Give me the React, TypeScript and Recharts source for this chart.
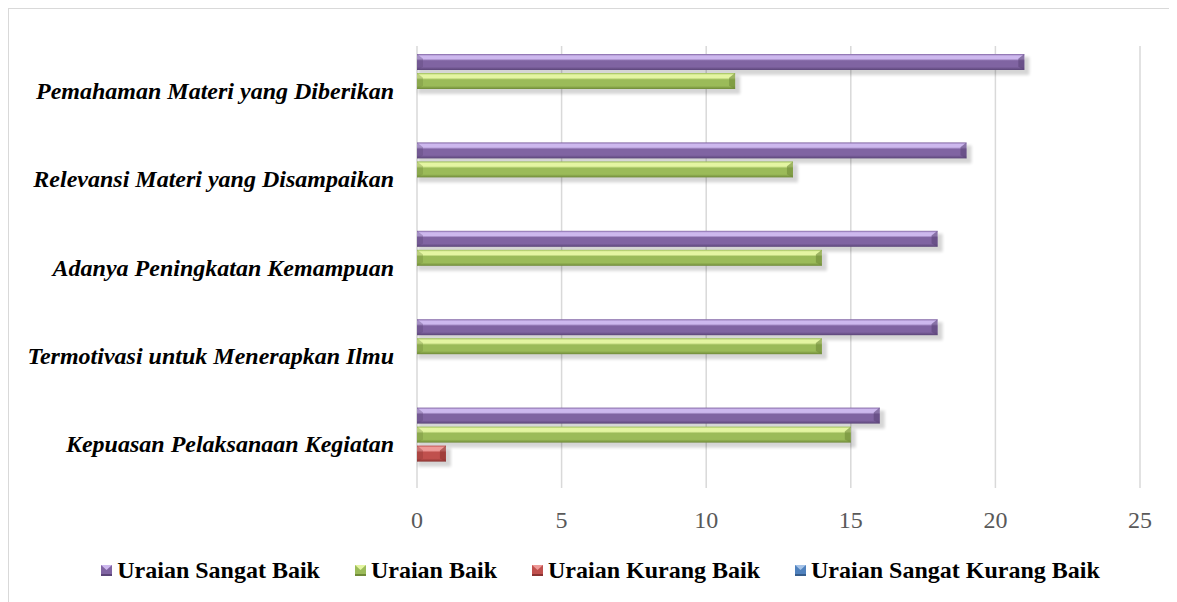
import React from "react";
import {
  Bar,
  BarChart,
  CartesianGrid,
  Legend,
  XAxis,
  YAxis,
} from "recharts";

const kategori = [
  "Pemahaman Materi yang Diberikan",
  "Relevansi Materi yang Disampaikan",
  "Adanya Peningkatan Kemampuan",
  "Termotivasi untuk Menerapkan Ilmu",
  "Kepuasan Pelaksanaan Kegiatan",
];

const sangatBaik = [21, 19, 18, 18, 16];
const baik = [11, 13, 14, 14, 15];
const kurangBaik = [0, 0, 0, 0, 1];
const sangatKurangBaik = [0, 0, 0, 0, 0];

const ticksX = [0, 5, 10, 15, 20, 25];

const seri = [
  { key: "sangatBaik", nama: "Uraian Sangat Baik", light: "#cdb8ee", base: "#8064a2", dark: "#5b4578" },
  { key: "baik", nama: "Uraian Baik", light: "#e4f5a2", base: "#9bbb59", dark: "#6f8a38" },
  { key: "kurangBaik", nama: "Uraian Kurang Baik", light: "#ee9a98", base: "#c0504d", dark: "#8a3331" },
  { key: "sangatKurangBaik", nama: "Uraian Sangat Kurang Baik", light: "#a5c3e8", base: "#4f81bd", dark: "#365d8c" },
];

const dataChart = kategori.map((nama, i) => ({
  nama,
  sangatBaik: sangatBaik[i],
  baik: baik[i],
  kurangBaik: kurangBaik[i],
  sangatKurangBaik: sangatKurangBaik[i],
}));

const serif = "Liberation Serif, Times New Roman, Tinos, DejaVu Serif, serif";

// batang dengan efek bevel ala Excel
const bikinBentuk = (s: (typeof seri)[number]) => (props: any) => {
  const { x, y, width, height } = props;
  if (!width || width <= 0) return null;
  const bev = Math.min(6, width / 2);
  return (
    <g>
      <rect x={x + 1} y={y + 3} width={width + 4} height={height + 2} fill="#000" opacity={0.16} filter="url(#bayangan)" />
      <rect x={x} y={y} width={width} height={height} fill={`url(#grad-${s.key})`} />
      <polygon
        points={`${x + width - bev},${y + height * 0.3} ${x + width},${y} ${x + width},${y + height} ${x + width - bev},${y + height * 0.8}`}
        fill={s.dark}
        opacity={0.6}
      />
      <polygon
        points={`${x},${y} ${x + bev},${y + height * 0.3} ${x + bev},${y + height * 0.8} ${x},${y + height}`}
        fill={s.dark}
        opacity={0.35}
      />
    </g>
  );
};

const LegendKustom = () => (
  <div
    style={{
      display: "flex",
      justifyContent: "center",
      alignItems: "center",
      gap: 35,
      height: 28,
      paddingLeft: 52,
      fontFamily: serif,
      fontWeight: "bold",
      fontSize: 24,
      color: "#000",
    }}
  >
    {seri.map((s) => (
      <div key={s.key} style={{ display: "flex", alignItems: "center", gap: 5 }}>
        <svg width={11} height={11}>
          <rect x={0} y={0} width={11} height={11} fill={s.base} />
          <polygon points="0,0 11,0 5.5,5" fill={s.light} />
          <rect x={0} y={9} width={11} height={2} fill={s.dark} />
        </svg>
        <span>{s.nama}</span>
      </div>
    ))}
  </div>
);

export default function App() {
  return (
    <div
      style={{
        width: 1169,
        height: 594,
        borderTop: "1px solid #d9d9d9",
        borderLeft: "1px solid #d9d9d9",
        boxSizing: "border-box",
        background: "#fff",
      }}
    >
      <BarChart
        width={1168}
        height={593}
        data={dataChart}
        layout="vertical"
        margin={{ top: 37, right: 37, left: 0, bottom: 18 }}
        barCategoryGap={8}
        barGap={3}
      >
        <defs>
          <filter id="bayangan" x="-5%" y="-50%" width="110%" height="200%">
            <feGaussianBlur stdDeviation="1.5" />
          </filter>
          {seri.map((s) => (
            <linearGradient key={s.key} id={`grad-${s.key}`} x1="0" y1="0" x2="0" y2="1">
              <stop offset="0" stopColor={s.base} />
              <stop offset="0.12" stopColor={s.light} />
              <stop offset="0.3" stopColor={s.light} />
              <stop offset="0.42" stopColor={s.base} />
              <stop offset="0.8" stopColor={s.base} />
              <stop offset="1" stopColor={s.dark} />
            </linearGradient>
          ))}
        </defs>
        <CartesianGrid horizontal={false} stroke="#d9d9d9" strokeWidth={1.5} />
        <XAxis
          type="number"
          domain={[0, 25]}
          ticks={ticksX}
          axisLine={false}
          tickLine={false}
          tickSize={0}
          tickMargin={23}
          height={68}
          tick={{ fill: "#595959", fontSize: 24, fontFamily: serif }}
        />
        <YAxis
          type="category"
          dataKey="nama"
          width={408}
          axisLine={false}
          tickLine={false}
          tickSize={0}
          tickMargin={23}
          tick={{
            fill: "#000",
            fontSize: 24,
            fontFamily: serif,
            fontWeight: "bold",
            fontStyle: "italic",
          }}
        />
        <Legend verticalAlign="bottom" content={<LegendKustom />} />
        {seri.map((s) => (
          <Bar
            key={s.key}
            dataKey={s.key}
            name={s.nama}
            fill={s.base}
            shape={bikinBentuk(s)}
            isAnimationActive={false}
          />
        ))}
      </BarChart>
    </div>
  );
}
